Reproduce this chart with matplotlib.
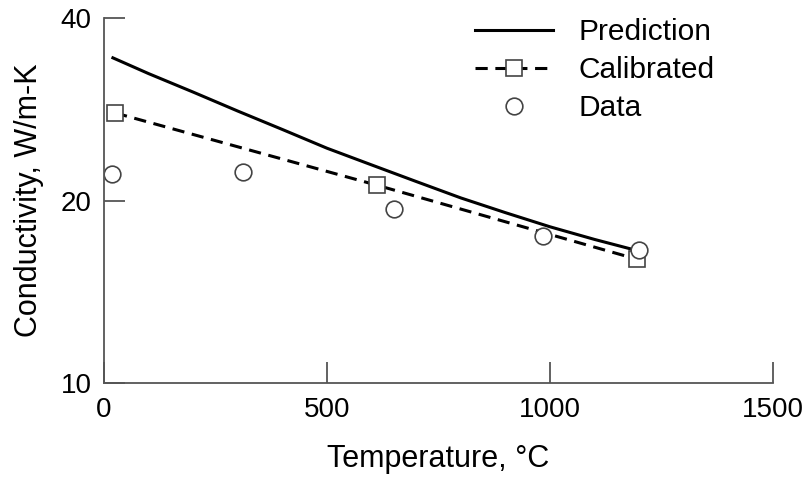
import matplotlib
matplotlib.use('Agg')
import matplotlib.pyplot as plt
from matplotlib.ticker import FixedLocator, NullLocator, FixedFormatter

plt.rcParams['font.family'] = ['Liberation Sans', 'DejaVu Sans']

# Prediction curve
pred_t = [20, 100, 200, 300, 400, 500, 600, 700, 800, 900, 1000, 1100, 1200]
pred_k = [34.4, 32.4, 30.2, 28.1, 26.2, 24.4, 22.9, 21.5, 20.2, 19.1, 18.1, 17.25, 16.5]

# Calibrated model points
cal_t = [25, 612, 1195]
cal_k = [27.9, 21.2, 16.0]

# Measured data
data_t = [18, 312, 650, 984, 1200]
data_k = [22.1, 22.3, 19.4, 17.5, 16.6]

x_ticks = [0, 500, 1000, 1500]
y_ticks = [10, 20, 40]

fig = plt.figure(figsize=(8.06, 4.78), dpi=100)
ax = fig.add_axes([0.129, 0.199, 0.83, 0.763])

ax.plot(pred_t, pred_k, color='black', lw=2.2, label='Prediction')
ax.plot(cal_t, cal_k, color='black', lw=2.2, ls=(0, (4, 2.5)), marker='s',
        ms=11, mfc='white', mec='#444444', mew=1.2, label='Calibrated')
ax.plot(data_t, data_k, ls='none', marker='o', ms=12, mfc='white',
        mec='#444444', mew=1.2, label='Data')

ax.set_yscale('log')
ax.set_xlim(0, 1500)
ax.set_ylim(10, 40)
ax.xaxis.set_major_locator(FixedLocator(x_ticks))
ax.yaxis.set_major_locator(FixedLocator(y_ticks))
ax.yaxis.set_major_formatter(FixedFormatter([str(v) for v in y_ticks]))
ax.yaxis.set_minor_locator(NullLocator())

for side in ['top', 'right']:
    ax.spines[side].set_visible(False)
for side in ['left', 'bottom']:
    ax.spines[side].set_color('#555555')
    ax.spines[side].set_linewidth(1.3)

ax.tick_params(direction='in', length=15, width=1.3, color='#555555',
               labelsize=20, pad=10)
ax.tick_params(axis='y', pad=9)

ax.set_xlabel('Temperature, °C', fontsize=22, labelpad=15)
ax.set_ylabel('Conductivity, W/m-K', fontsize=22, labelpad=12)

ax.legend(loc='upper left', frameon=False, fontsize=21.5, handlelength=2.6,
          handletextpad=0.85, labelspacing=0.34, borderaxespad=0.0,
          borderpad=0.0, bbox_to_anchor=(0.555, 1.0))

fig.savefig('out.png', dpi=100)
